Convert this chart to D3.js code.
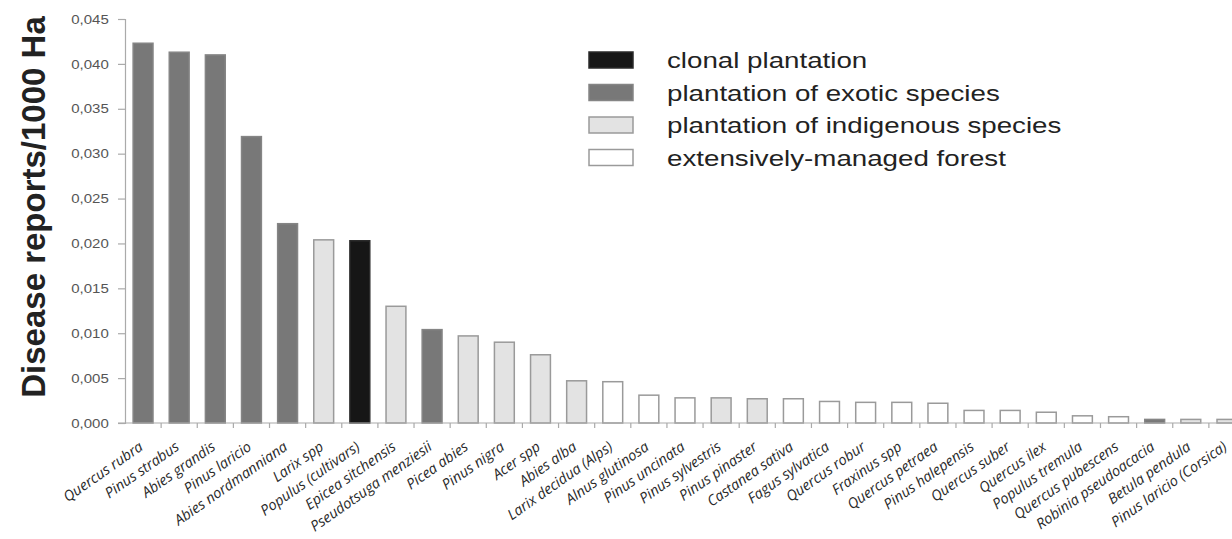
<!DOCTYPE html>
<html>
<head>
<meta charset="utf-8">
<script src="https://cdn.jsdelivr.net/npm/d3@7/dist/d3.min.js"></script>
<style>
  body { margin: 0; background: #fff; }
  svg { display: block; }
</style>
</head>
<body>
<div id="chart"></div>
<script>
// data
const species = ["Quercus rubra", "Pinus strabus", "Abies grandis", "Pinus laricio", "Abies nordmanniana",
  "Larix spp", "Populus (cultivars)", "Epicea sitchensis", "Pseudotsuga menziesii", "Picea abies",
  "Pinus nigra", "Acer spp", "Abies alba", "Larix decidua (Alps)", "Alnus glutinosa",
  "Pinus uncinata", "Pinus sylvestris", "Pinus pinaster", "Castanea sativa", "Fagus sylvatica",
  "Quercus robur", "Fraxinus spp", "Quercus petraea", "Pinus halepensis", "Quercus suber",
  "Quercus ilex", "Populus tremula", "Quercus pubescens", "Robinia pseudoacacia", "Betula pendula",
  "Pinus laricio (Corsica)"];
const reports = [0.0423, 0.0413, 0.0410, 0.0319, 0.0222,
  0.0204, 0.0203, 0.0130, 0.0104, 0.0097,
  0.0090, 0.0076, 0.0047, 0.0046, 0.0031,
  0.0028, 0.0028, 0.0027, 0.0027, 0.0024,
  0.0023, 0.0023, 0.0022, 0.0014, 0.0014,
  0.0012, 0.0008, 0.0007, 0.0004, 0.0004,
  0.0004];
const forestType = ["exotic", "exotic", "exotic", "exotic", "exotic",
  "indigenous", "clonal", "indigenous", "exotic", "indigenous",
  "indigenous", "indigenous", "indigenous", "extensive", "extensive",
  "extensive", "indigenous", "indigenous", "extensive", "extensive",
  "extensive", "extensive", "extensive", "extensive", "extensive",
  "extensive", "extensive", "extensive", "exotic", "indigenous",
  "indigenous"];
const legendKeys = ["clonal", "exotic", "indigenous", "extensive"];
const legendLabels = ["clonal plantation", "plantation of exotic species",
  "plantation of indigenous species", "extensively-managed forest"];
const yTicks = [0, 0.005, 0.01, 0.015, 0.02, 0.025, 0.03, 0.035, 0.04, 0.045];

const width = 1232, height = 539;
const fillOf = {clonal: "#161616", exotic: "#787878", indigenous: "#e3e3e3", extensive: "#ffffff"};
const strokeOf = {clonal: "#2a2a2a", exotic: "#858585", indigenous: "#9a9a9a", extensive: "#9a9a9a"};

const svg = d3.select("#chart").append("svg")
  .attr("width", width).attr("height", height);

const x = d3.scaleBand().domain(species).range([125, 1245]).paddingInner(0.45).paddingOuter(0.225);
const y = d3.scaleLinear().domain([0, 0.045]).range([423, 19]);

// bars
svg.append("g").selectAll("rect")
  .data(species)
  .join("rect")
  .attr("x", d => x(d))
  .attr("width", x.bandwidth())
  .attr("y", (d, i) => y(reports[i]))
  .attr("height", (d, i) => y(0) - y(reports[i]))
  .attr("fill", (d, i) => fillOf[forestType[i]])
  .attr("stroke", (d, i) => strokeOf[forestType[i]])
  .attr("stroke-width", 1.5);

// y axis
const yAxis = svg.append("g")
  .attr("transform", "translate(125,0)")
  .call(d3.axisLeft(y).tickValues(yTicks).tickSize(7).tickPadding(6)
    .tickFormat(d => d3.format(".3f")(d).replace(".", ",")));
yAxis.select(".domain").attr("stroke", "#aaa").attr("stroke-width", 1.2);
yAxis.selectAll(".tick line").attr("stroke", "#aaa").attr("stroke-width", 1.2);
yAxis.selectAll(".tick text")
  .attr("font-family", "Liberation Sans, Arial, sans-serif")
  .attr("font-size", 12)
  .attr("fill", "#555")
  .attr("dy", "0.35em")
  .attr("transform", "translate(-113,0) scale(1.25,1) translate(90.4,0)");

// x axis baseline and boundary ticks
const step = x.step();
const boundaries = species.map(d => x(d) - x.paddingInner() * step / 2);
const xAxis = svg.append("g");
xAxis.append("line")
  .attr("x1", 118).attr("x2", width)
  .attr("y1", y(0)).attr("y2", y(0))
  .attr("stroke", "#aaa").attr("stroke-width", 1.2);
xAxis.selectAll("line.tk")
  .data(boundaries.slice(1))
  .join("line")
  .attr("class", "tk")
  .attr("x1", d => d).attr("x2", d => d)
  .attr("y1", y(0)).attr("y2", y(0) + 5)
  .attr("stroke", "#aaa").attr("stroke-width", 1.2);

// x labels
xAxis.selectAll("text")
  .data(species)
  .join("text")
  .attr("transform", d => `translate(${x(d) + x.bandwidth() / 2 + 1},${y(0) + 26}) rotate(-35)`)
  .attr("text-anchor", "end")
  .attr("font-family", "Open Sans, sans-serif")
  .attr("font-style", "italic")
  .attr("font-size", 14.5)
  .attr("fill", "#2a2a2a")
  .text(d => d);

// y title
svg.append("text")
  .attr("transform", "translate(45,207) rotate(-90)")
  .attr("text-anchor", "middle")
  .attr("font-family", "Liberation Sans, Arial, sans-serif")
  .attr("font-weight", "bold")
  .attr("font-size", 33)
  .attr("fill", "#222")
  .text("Disease reports/1000 Ha");

// legend
const legend = svg.append("g").attr("transform", "translate(589,52)");
const rows = legend.selectAll("g")
  .data(legendKeys)
  .join("g")
  .attr("transform", (d, i) => `translate(0,${i * 32.5})`);
rows.append("rect")
  .attr("width", 44).attr("height", 16)
  .attr("fill", d => fillOf[d])
  .attr("stroke", d => strokeOf[d])
  .attr("stroke-width", 1.5);
rows.append("text")
  .attr("transform", "translate(78,16) scale(1.26,1)")
  .attr("font-family", "Liberation Sans, Arial, sans-serif")
  .attr("font-size", 22)
  .attr("fill", "#222")
  .text((d, i) => legendLabels[i]);
</script>
</body>
</html>
